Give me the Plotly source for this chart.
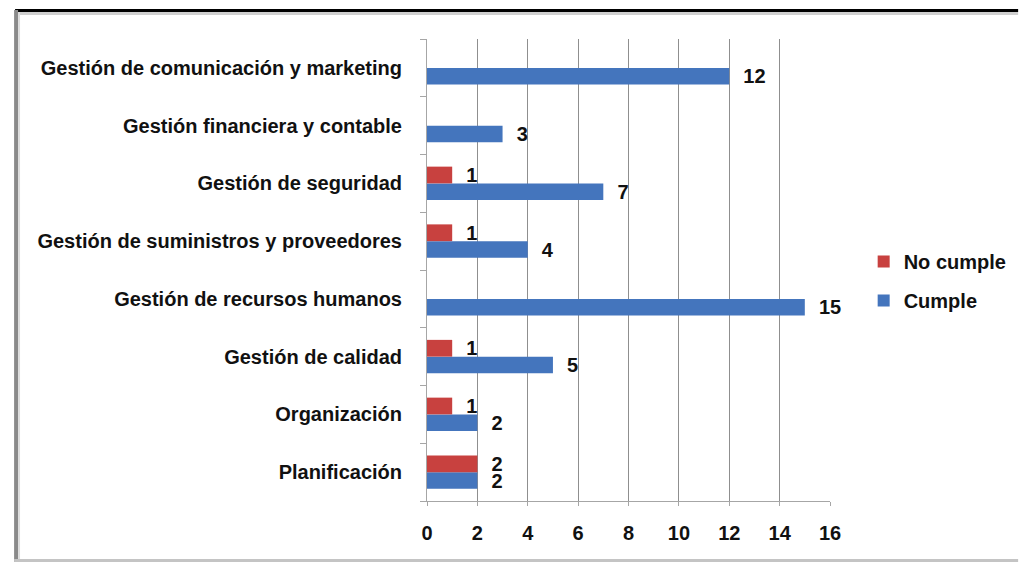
import plotly.graph_objects as go

# Categories listed from the bottom of the chart upward
categorias = [
    "Planificación",
    "Organización",
    "Gestión de calidad",
    "Gestión de recursos humanos",
    "Gestión de suministros y proveedores",
    "Gestión de seguridad",
    "Gestión financiera y contable",
    "Gestión de comunicación y marketing",
]
cumple = [2, 2, 5, 15, 4, 7, 3, 12]
no_cumple = [2, 1, 1, None, 1, 1, None, None]
x_ticks = [0, 2, 4, 6, 8, 10, 12, 14, 16]

W, H = 1024, 562
M_L, M_R, M_T, M_B = 427, 190, 39, 61
PLOT_W = W - M_L - M_R
PLOT_H = H - M_T - M_B

FONT = "Liberation Sans, Arial, sans-serif"
BLUE = "#4475BD"
RED = "#C8413F"


def xpap(px):
    return (px - M_L) / PLOT_W


def ypap(py):
    return (H - M_B - py) / PLOT_H


label_font = dict(family=FONT, size=20, color="#111111", weight="bold")

fig = go.Figure()
fig.add_trace(go.Bar(
    name="Cumple", y=categorias, x=cumple, orientation="h",
    marker=dict(color=BLUE, line=dict(width=0)),
    texttemplate="\u00a0\u00a0%{x}", textposition="outside",
    textfont=label_font, constraintext="none", cliponaxis=False,
    legendgroup="c", legendrank=2,
))
fig.add_trace(go.Bar(
    name="No cumple", y=categorias, x=no_cumple, orientation="h",
    marker=dict(color=RED, line=dict(width=0)),
    texttemplate="\u00a0\u00a0%{x}", textposition="outside",
    textfont=label_font, constraintext="none", cliponaxis=False,
    legendgroup="n", legendrank=1,
))

# Page frame: heavy dark rule on top, grey rules left and bottom
frame = [
    dict(x0=11, x1=1024, y0=9, y1=12, color="#000000"),
    dict(x0=11, x1=1024, y0=12, y1=15, color="#cfcfcf"),
    dict(x0=10, x1=14, y0=10, y1=562, color="#8a8a8a"),
    dict(x0=14, x1=16, y0=12, y1=562, color="#dcdcdc"),
    dict(x0=10, x1=1024, y0=559, y1=562, color="#c4c4c4"),
]
shapes = [
    dict(type="rect", xref="paper", yref="paper",
         x0=xpap(f["x0"]), x1=xpap(f["x1"]), y0=ypap(f["y1"]), y1=ypap(f["y0"]),
         fillcolor=f["color"], line=dict(width=0), layer="above")
    for f in frame
]

fig.update_layout(
    width=W, height=H,
    margin=dict(l=M_L, r=M_R, t=M_T, b=M_B, pad=0),
    paper_bgcolor="white", plot_bgcolor="white",
    barmode="group", bargap=0.42, bargroupgap=0,
    font=dict(family=FONT, size=20, color="#111111"),
    shapes=shapes,
    showlegend=True,
    legend=dict(
        x=xpap(868), y=0.476, xanchor="left", yanchor="middle",
        traceorder="grouped", tracegroupgap=10,
        font=dict(family=FONT, size=20, color="#111111", weight="bold"),
        bgcolor="rgba(0,0,0,0)",
    ),
    xaxis=dict(
        range=[0, 16], tickvals=x_ticks, ticktext=[str(v) for v in x_ticks],
        showgrid=True, gridcolor="#8f8f8f", gridwidth=1,
        zeroline=False, showline=True, linecolor="#a6a6a6", linewidth=1,
        ticks="outside", ticklen=4, tickcolor="#a6a6a6",
        ticklabelstandoff=10,
        tickfont=dict(family=FONT, size=20, color="#111111", weight="bold"),
        fixedrange=True,
    ),
    yaxis=dict(
        type="category", categoryorder="array", categoryarray=categorias,
        showgrid=False, zeroline=False,
        showline=True, linecolor="#a6a6a6", linewidth=1,
        ticks="outside", tickson="boundaries", ticklen=6, tickcolor="#a6a6a6",
        ticklabelstandoff=20,
        tickfont=dict(family=FONT, size=20, color="#111111", weight="bold"),
        fixedrange=True,
    ),
)

fig.write_html("out.html")
